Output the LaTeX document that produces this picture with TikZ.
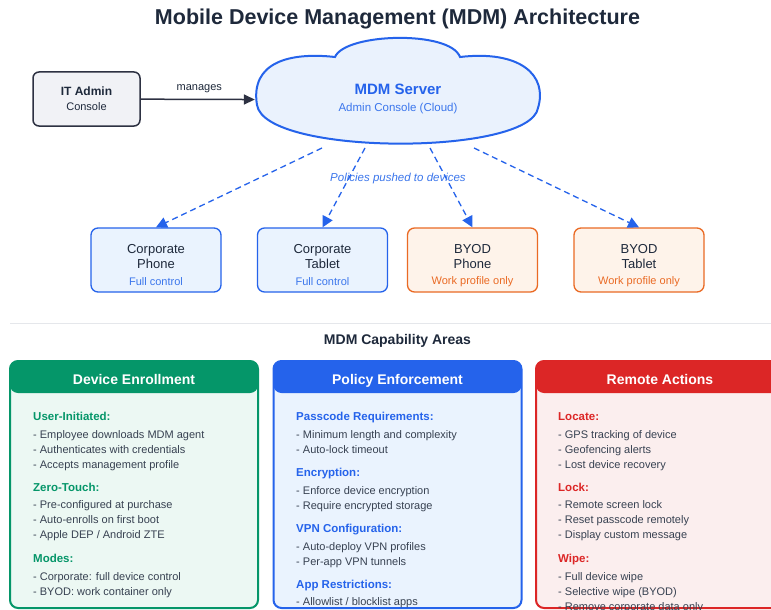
\documentclass[tikz,border=0pt]{standalone}
\usepackage{fontspec}
\setmainfont{Liberation Sans}
\usepackage{xcolor}
\usepackage{tikz}
\usetikzlibrary{positioning, arrows.meta, shapes.geometric}
\definecolor{ink}{HTML}{1E293B}
\definecolor{textgray}{HTML}{374151}
\definecolor{mdmblue}{HTML}{2563EB}
\definecolor{lightblue}{HTML}{3B76EC}
\definecolor{cloudfill}{HTML}{EAF2FD}
\definecolor{corpfill}{HTML}{EAF3FE}
\definecolor{byodorange}{HTML}{EA6A24}
\definecolor{byodfill}{HTML}{FEF3EA}
\definecolor{admfill}{HTML}{F1F2F6}
\definecolor{admdraw}{HTML}{2D3142}
\definecolor{enrgreen}{HTML}{059669}
\definecolor{enrfill}{HTML}{ECF8F3}
\definecolor{polfill}{HTML}{EAF3FE}
\definecolor{remred}{HTML}{DC2626}
\definecolor{remfill}{HTML}{FBEEEE}
\definecolor{rulegray}{HTML}{E5E7EB}
\newcommand{\fsz}[2]{\fontsize{#1}{#2}\selectfont}

\begin{document}
\begin{tikzpicture}
            [
            x=1pt, y=-1pt,
            title/.style={font=\bfseries\fsz{21.5}{24}, text=ink},
            admin/.style={rectangle, rounded corners=6pt, draw=admdraw, fill=admfill, line width=1.5pt,
                minimum width=107pt, minimum height=54pt, align=center, font=\fsz{12}{15}, text=ink},
            cloudy/.style={draw=mdmblue, fill=cloudfill, line width=2pt},
            server/.style={ellipse, minimum width=280pt, minimum height=84pt},
            manage/.style={-{Triangle[length=11pt,width=10pt]}, admdraw, line width=1.5pt, shorten >=3pt},
            push/.style={-{Triangle[length=11pt,width=11pt]}, mdmblue, line width=1.3pt, dash pattern=on 6pt off 4pt},
            device/.style={rectangle, rounded corners=7pt, line width=1.3pt, minimum width=130pt, minimum height=64pt},
            corp/.style={device, draw=mdmblue, fill=corpfill},
            byod/.style={device, draw=byodorange, fill=byodfill},
            devname/.style={align=center, font=\fsz{13}{15}, text=ink},
            corpnote/.style={font=\fsz{11}{13}, text=lightblue},
            byodnote/.style={font=\fsz{11}{13}, text=byodorange},
            panel/.style={rectangle, rounded corners=8pt, line width=2pt, minimum width=248pt, minimum height=247pt,
                inner sep=0pt, draw=#1,
                path picture={\fill[#1] (path picture bounding box.north west) rectangle ([yshift=-32pt]path picture bounding box.north east);}},
            phead/.style={anchor=base, font=\bfseries\fsz{14}{16}, text=white},
            sect/.style={anchor=base west, inner sep=0pt, font=\bfseries\fsz{11.5}{13}},
            items/.style={anchor=north west, inner sep=0pt, align=left, font=\fsz{11}{15}, text=textgray}
            ]
        \useasboundingbox (0,0) rectangle (771,610);
        \clip (0,0) rectangle (771,610);
        \fill[white] (0,0) rectangle (771,610);

        \node[title] (title) at (397.5,19) {Mobile Device Management (MDM) Architecture};

        \node[admin] (admin) at (86.5,99) {{\bfseries IT Admin}\\{\fsz{11}{15}Console}};

        \draw[cloudy] (257,105)
            .. controls (250,62) and (290,52) .. (335,57)
            .. controls (345,33) and (450,30) .. (460,57)
            .. controls (520,50) and (548,75) .. (538,108)
            .. controls (530,156) and (265,156) .. (257,105) -- cycle;
        \node[server] (server) at (398,100) {};
        \node[font=\bfseries\fsz{15}{17}, text=mdmblue] (srvname) at (398,89) {MDM Server};
        \node[font=\fsz{11.5}{13}, text=lightblue] (srvsub) at (398,109) {Admin Console (Cloud)};

        \draw[manage] (admin) -- node[midway, above=2pt, font=\fsz{11}{13}, text=ink] {manages} (server);

        \node[corp] (cphone) at (156,260) {};
        \node[devname] (cphonename) at (156,256.5) {Corporate\\Phone};
        \node[corpnote] (cphonenote) at (156,282) {Full control};
        \node[corp] (ctablet) at (322.5,260) {};
        \node[devname] (ctabletname) at (322.5,256.5) {Corporate\\Tablet};
        \node[corpnote] (ctabletnote) at (322.5,282) {Full control};
        \node[byod] (bphone) at (472.5,260) {};
        \node[devname] (bphonename) at (472.5,256.5) {BYOD\\Phone};
        \node[byodnote] (bphonenote) at (472.5,282) {Work profile only};
        \node[byod] (btablet) at (639,260) {};
        \node[devname] (btabletname) at (639,256.5) {BYOD\\Tablet};
        \node[byodnote] (btabletnote) at (639,282) {Work profile only};

        \coordinate (p1) at (322,148);
        \coordinate (p2) at (365,148);
        \coordinate (p3) at (430,148);
        \coordinate (p4) at (474,148);
        \draw[push] (p1) -- (cphone.north);
        \draw[push] (p2) -- (ctablet.north);
        \draw[push] (p3) -- (bphone.north);
        \draw[push] (p4) -- (btablet.north);
        \node[font=\itshape\fsz{11.5}{13}, text=lightblue] (pushlbl) at (398,179) {Policies pushed to devices};

        \draw[rulegray, line width=1.5pt] (10,323.5) -- (771,323.5);
        \node[font=\bfseries\fsz{14}{16}, text=ink] (capttl) at (397.5,341) {MDM Capability Areas};

        \node[panel=enrgreen, fill=enrfill] (enroll) at (134,484.5) {};
        \node[phead] (enrollhd) at (134,384) {Device Enrollment};
        \node[sect, enrgreen] (usrhd) at (33,420.8) {User-Initiated:};
        \node[items] (usritems) at (33,430) {- Employee downloads MDM agent\\- Authenticates with credentials\\- Accepts management profile};
        \node[sect, enrgreen] (zthd) at (33,491.1) {Zero-Touch:};
        \node[items] (ztitems) at (33,500.5) {- Pre-configured at purchase\\- Auto-enrolls on first boot\\- Apple DEP / Android ZTE};
        \node[sect, enrgreen] (modehd) at (33,562.1) {Modes:};
        \node[items] (modeitems) at (33,572) {- Corporate: full device control\\- BYOD: work container only};

        \node[panel=mdmblue, fill=polfill] (policy) at (397.5,484.5) {};
        \node[phead] (policyhd) at (397.5,384) {Policy Enforcement};
        \node[sect, mdmblue] (passhd) at (296,420.8) {Passcode Requirements:};
        \node[items] (passitems) at (296,430) {- Minimum length and complexity\\- Auto-lock timeout};
        \node[sect, mdmblue] (enchd) at (296,476) {Encryption:};
        \node[items] (encitems) at (296,486) {- Enforce device encryption\\- Require encrypted storage};
        \node[sect, mdmblue] (vpnhd) at (296,532) {VPN Configuration:};
        \node[items] (vpnitems) at (296,542) {- Auto-deploy VPN profiles\\- Per-app VPN tunnels};
        \node[sect, mdmblue] (apphd) at (296,588) {App Restrictions:};
        \node[items] (appitems) at (296,597) {- Allowlist / blocklist apps};

        \node[panel=remred, fill=remfill] (remote) at (660,484.5) {};
        \node[phead] (remotehd) at (660,384) {Remote Actions};
        \node[sect, remred] (lochd) at (558,420.8) {Locate:};
        \node[items] (locitems) at (558,430) {- GPS tracking of device\\- Geofencing alerts\\- Lost device recovery};
        \node[sect, remred] (lockhd) at (558,491.1) {Lock:};
        \node[items] (lockitems) at (558,500.5) {- Remote screen lock\\- Reset passcode remotely\\- Display custom message};
        \node[sect, remred] (wipehd) at (558,562.1) {Wipe:};
        \node[items] (wipeitems) at (558,572) {- Full device wipe\\- Selective wipe (BYOD)\\- Remove corporate data only};
        \end{tikzpicture}
\end{document}
